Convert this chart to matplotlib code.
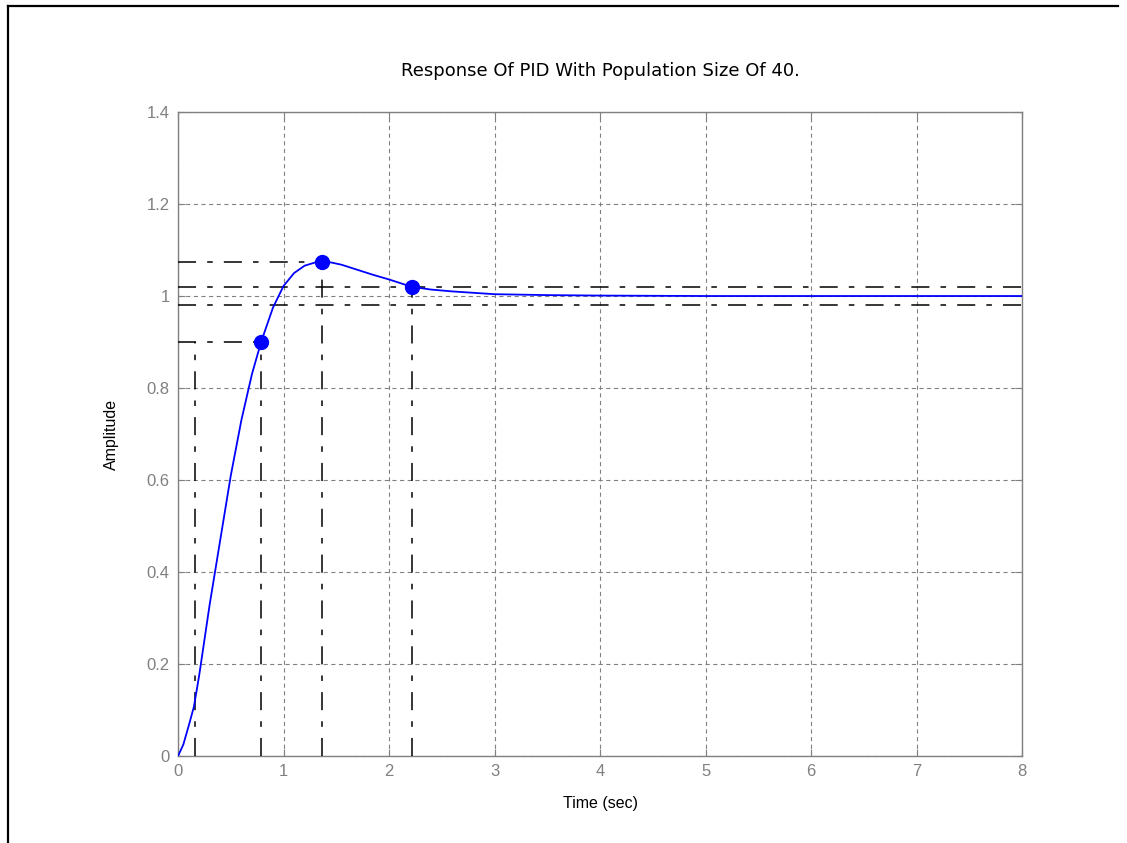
import matplotlib
matplotlib.use('Agg')
import matplotlib.pyplot as plt
from matplotlib.lines import Line2D

# step response
t = [0, 0.05, 0.1, 0.15, 0.2, 0.3, 0.4, 0.5, 0.6, 0.7, 0.787, 0.9, 1.0,
     1.1, 1.2, 1.3, 1.36, 1.45, 1.55, 1.7, 1.85, 2.0, 2.215, 2.4, 2.6,
     2.8, 3.0, 3.5, 4.0, 5.0, 6.0, 7.0, 8.0]
amp = [0, 0.025, 0.065, 0.107, 0.175, 0.33, 0.47, 0.61, 0.73, 0.83, 0.90,
       0.975, 1.022, 1.05, 1.066, 1.073, 1.074, 1.073, 1.068, 1.057, 1.046,
       1.036, 1.02, 1.014, 1.010, 1.007, 1.004, 1.002, 1.001, 1.0, 1.0,
       1.0, 1.0]

rise_t = [0.16, 0.787]
rise_level = 0.9
peak_t, peak_y = 1.36, 1.074
settle_t, settle_y = 2.215, 1.02
settle_band = [0.98, 1.02]

xticks = [0, 1, 2, 3, 4, 5, 6, 7, 8]
yticks = [0, 0.2, 0.4, 0.6, 0.8, 1, 1.2, 1.4]
ytick_labels = ['0', '0.2', '0.4', '0.6', '0.8', '1', '1.2', '1.4']

plt.rcParams['font.family'] = ['Liberation Sans', 'DejaVu Sans']
plt.rcParams['lines.scale_dashes'] = False

fig = plt.figure(figsize=(11.27, 8.43), dpi=100)
ax = fig.add_axes([0.158, 0.1032, 0.7489, 0.7639])

gray = '#808080'
dashdot = (0, (13, 8, 4, 8))
lw_c = 1.1

# settling band across the whole width
for lev in settle_band:
    ax.plot([0, 8], [lev, lev], color='black', lw=lw_c, linestyle=dashdot, zorder=3)

# rise time
ax.plot([0, rise_t[1]], [rise_level, rise_level], color='black', lw=lw_c, linestyle=dashdot, zorder=3)
for rt in rise_t:
    ax.plot([rt, rt], [0, rise_level], color='black', lw=lw_c, linestyle=dashdot, zorder=3)

# peak
ax.plot([0, peak_t], [peak_y, peak_y], color='black', lw=lw_c, linestyle=dashdot, zorder=3)
ax.plot([peak_t, peak_t], [0, peak_y], color='black', lw=lw_c, linestyle=dashdot, zorder=3)

# settling time
ax.plot([settle_t, settle_t], [0, settle_y], color='black', lw=lw_c, linestyle=dashdot, zorder=3)

ax.plot(t, amp, color='#0000ff', lw=1.3, zorder=4)
ax.plot([rise_t[1], peak_t, settle_t], [rise_level, peak_y, settle_y], 'o',
        color='#0000ff', markersize=10, zorder=5)

ax.set_xlim(0, 8)
ax.set_ylim(0, 1.4)
ax.set_xticks(xticks)
ax.set_yticks(yticks)
ax.set_yticklabels(ytick_labels)
ax.grid(True, color=gray, linestyle=(0, (3, 2.5)), linewidth=0.8)
ax.tick_params(direction='in', length=5, color=gray, labelcolor=gray,
               labelsize=12, top=True, right=True, pad=6)
for s in ax.spines.values():
    s.set_color(gray)
    s.set_linewidth(1.0)

ax.set_title('Response Of PID With Population Size Of 40.', fontsize=13,
             family=['DejaVu Sans'], pad=26)
ax.set_xlabel('Time (sec)', fontsize=11.5, labelpad=12)
ax.set_ylabel('Amplitude', fontsize=11.5, labelpad=20)

# outer frame (left and top only)
fig.add_artist(Line2D([7.5 / 1127, 7.5 / 1127], [0, 1 - 5.5 / 843], color='black', lw=1.6,
                      transform=fig.transFigure))
fig.add_artist(Line2D([7.5 / 1127, 1118 / 1127], [1 - 5.5 / 843, 1 - 5.5 / 843], color='black',
                      lw=1.6, transform=fig.transFigure))

fig.savefig('out.png', dpi=100)
